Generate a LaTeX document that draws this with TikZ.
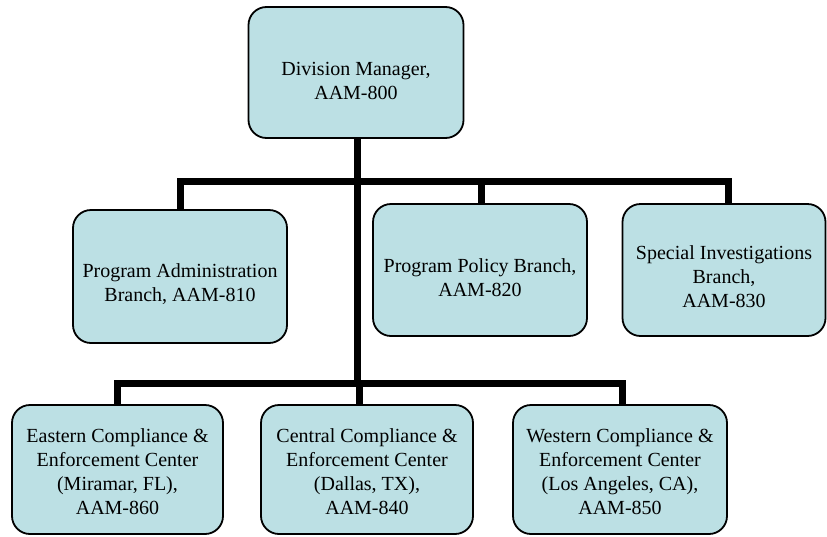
\documentclass[tikz,border=0pt]{standalone}
\usepackage{fontspec}
\setmainfont{Liberation Serif}
\definecolor{boxfill}{RGB}{188,224,228}
\begin{document}
\begin{tikzpicture}[x=1pt,y=-1pt,
  orgbox/.style={draw=black, line width=1.8pt, fill=boxfill, rounded corners=18pt,
    rectangle, inner sep=0pt, outer sep=0pt},
  txt/.style={align=center, font=\fontsize{20}{24}\selectfont, inner sep=0pt},
  bar/.style={line width=7pt, line join=miter}]
\useasboundingbox (0,0) rectangle (827,536);

\coordinate (t1) at (357,181);
\coordinate (t2) at (357,383);

% connectors (drawn first, boxes on top)
\coordinate (a) at (357,72.5);
\coordinate (c810) at (180,210);
\coordinate (c820) at (481,204);
\coordinate (c830) at (728,204);
\coordinate (c860) at (117,405);
\coordinate (c840) at (359,405);
\coordinate (c850) at (622,405);

\draw[bar] (a) -- (t2);
\draw[bar] (c810) |- (c830 |- t1) -- (c830);
\draw[bar] (c820) -- (c820 |- t1);
\draw[bar] (c860) |- (c850 |- t2) -- (c850);
\draw[bar] (c840) -- (c840 |- t2);

% boxes
\node[orgbox, minimum width=215pt, minimum height=131pt] (A) at (356,72.5) {};
\node[orgbox, minimum width=214pt, minimum height=133pt] (B810) at (180,276.5) {};
\node[orgbox, minimum width=214pt, minimum height=132pt] (B820) at (480,270) {};
\node[orgbox, minimum width=203pt, minimum height=132pt] (B830) at (724,270) {};
\node[orgbox, minimum width=211pt, minimum height=129pt] (B860) at (117.5,469.5) {};
\node[orgbox, minimum width=212pt, minimum height=129pt] (B840) at (367,469.5) {};
\node[orgbox, minimum width=214pt, minimum height=129pt] (B850) at (620,469.5) {};

% texts
\node[txt] (tA) at ([yshift=-8pt]A.center) {Division Manager,\\AAM-800};
\node[txt] (t810) at ([yshift=-8pt]B810.center) {Program Administration\\Branch, AAM-810};
\node[txt] (t820) at ([yshift=-8pt]B820.center) {Program Policy Branch,\\AAM-820};
\node[txt] (t830) at ([yshift=-7pt]B830.center) {Special Investigations\\Branch,\\AAM-830};
\node[txt] (t860) at ([yshift=-2pt]B860.center) {Eastern Compliance \&\\Enforcement Center\\(Miramar, FL),\\AAM-860};
\node[txt] (t840) at ([yshift=-2pt]B840.center) {Central Compliance \&\\Enforcement Center\\(Dallas, TX),\\AAM-840};
\node[txt] (t850) at ([yshift=-2pt]B850.center) {Western Compliance \&\\Enforcement Center\\(Los Angeles, CA),\\AAM-850};
\end{tikzpicture}
\end{document}
